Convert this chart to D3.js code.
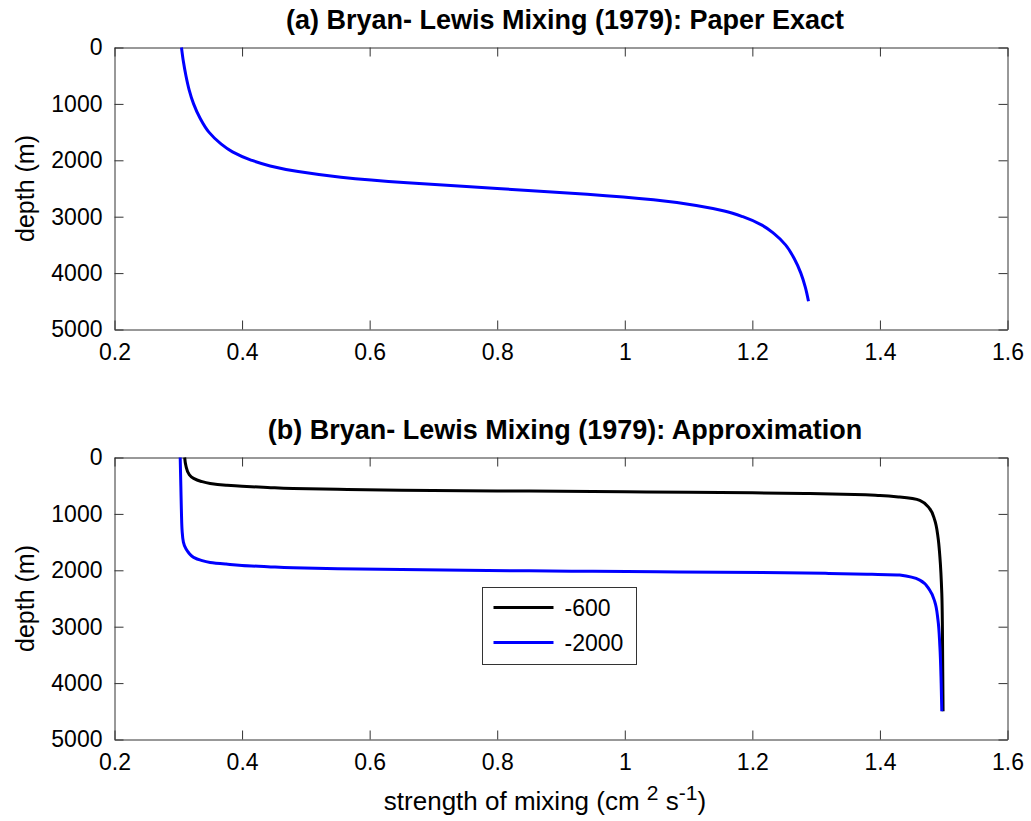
<!DOCTYPE html>
<html>
<head>
<meta charset="utf-8">
<script src="https://cdn.jsdelivr.net/npm/d3@7"></script>
<style>
  body { margin: 0; background: #fff; }
  text { font-family: "Liberation Sans", Arial, Helvetica, sans-serif; }
</style>
</head>
<body>
<svg id="chart" width="1031" height="821"></svg>
<script>
// ticks
const xTicks = [0.2, 0.4, 0.6, 0.8, 1.0, 1.2, 1.4, 1.6]
const xTickLabels = ["0.2", "0.4", "0.6", "0.8", "1", "1.2", "1.4", "1.6"]
const yTicks = [0, 1000, 2000, 3000, 4000, 5000]
const yTickLabels = ["0", "1000", "2000", "3000", "4000", "5000"]

// (a) paper exact profile
const exactDepth = [0, 250, 500, 750, 1000, 1250, 1500, 1700, 1850, 2000, 2100, 2200, 2300, 2400, 2500,
                    2600, 2700, 2800, 2900, 3000, 3150, 3300, 3500, 3750, 4000, 4250, 4500]
const exactMix = [0.305, 0.308, 0.312, 0.317, 0.324, 0.334, 0.348, 0.366, 0.385, 0.415, 0.444, 0.488, 0.555, 0.659, 0.8,
                  0.941, 1.045, 1.112, 1.156, 1.185, 1.215, 1.234, 1.252, 1.266, 1.276, 1.283, 1.288]

// (b) approximation, transition at -600
const mix600Depth = [0, 150, 300, 370, 420, 460, 490, 510, 530, 550, 565, 580, 592, 600, 608, 616, 626, 640,
                     655, 675, 701, 760, 907, 1113, 1408, 1761, 2409, 3057, 3800, 4500]
const mix600 = [0.310, 0.312, 0.317, 0.324, 0.335, 0.35, 0.375, 0.40, 0.44, 0.48, 0.55, 0.65, 0.80, 0.90, 1.00, 1.10, 1.20, 1.29,
                1.36, 1.40, 1.431, 1.4625, 1.478, 1.486, 1.491, 1.494, 1.497, 1.498, 1.4985, 1.499]

// (b) approximation, transition at -2000
const mix2000Depth = [0, 500, 1000, 1300, 1500, 1620, 1700, 1770, 1820, 1860, 1890, 1915, 1935, 1955, 1972, 1988,
                      2000, 2010, 2018, 2026, 2034, 2044, 2055, 2068, 2085, 2173, 2350, 2556, 2880, 3352, 4000, 4500]
const mix2000 = [0.303, 0.304, 0.305, 0.306, 0.308, 0.312, 0.317, 0.324, 0.335, 0.35, 0.375, 0.40, 0.44, 0.48, 0.55, 0.65,
                 0.75, 0.85, 0.95, 1.05, 1.15, 1.25, 1.32, 1.38, 1.431, 1.4625, 1.478, 1.486, 1.491, 1.494, 1.496, 1.497]

const svg = d3.select("#chart")
const left = 114.5, right = 1007.5, panel_h = 282
const axis_color = "#333"

const zip = (ds, vs) => ds.map((d, i) => ({d: d, v: vs[i]}))

function drawPanel(top, title, series) {
    const x = d3.scaleLinear().domain([0.2, 1.6]).range([left, right])
    const y = d3.scaleLinear().domain([0, 5000]).range([top, top + panel_h])
    const g = svg.append("g")

    const styleAxis = sel => {
        sel.attr("font-size", 23).attr("font-family", null).attr("color", "#000")
        sel.selectAll("path, line").attr("stroke", axis_color).attr("stroke-width", 1)
    }

    g.append("g").attr("transform", `translate(0,${top + panel_h})`)
        .call(d3.axisBottom(x).tickValues(xTicks).tickFormat((d, i) => xTickLabels[i])
            .tickSizeInner(-9).tickSizeOuter(0).tickPadding(14))
        .call(styleAxis)
    g.append("g").attr("transform", `translate(0,${top})`)
        .call(d3.axisTop(x).tickValues(xTicks).tickFormat("").tickSizeInner(-9).tickSizeOuter(0))
        .call(styleAxis)
    g.append("g").attr("transform", `translate(${left},0)`)
        .call(d3.axisLeft(y).tickValues(yTicks).tickFormat((d, i) => yTickLabels[i])
            .tickSizeInner(-9).tickSizeOuter(0).tickPadding(12))
        .call(styleAxis)
    g.append("g").attr("transform", `translate(${right},0)`)
        .call(d3.axisRight(y).tickValues(yTicks).tickFormat("").tickSizeInner(-9).tickSizeOuter(0))
        .call(styleAxis)

    const line = d3.line().x(p => x(p.v)).y(p => y(p.d)).curve(d3.curveMonotoneY)
    for (const s of series) {
        g.append("path").datum(s.points)
            .attr("fill", "none").attr("stroke", s.color).attr("stroke-width", 3)
            .attr("stroke-linejoin", "round")
            .attr("d", line)
    }

    g.append("text").attr("x", (left + right) / 2 + 4).attr("y", top - 19)
        .attr("text-anchor", "middle").attr("font-size", 27).attr("font-weight", "bold")
        .text(title)

    g.append("text")
        .attr("transform", `translate(34,${top + panel_h / 2}) rotate(-90)`)
        .attr("text-anchor", "middle").attr("font-size", 25)
        .text("depth (m)")

    return {x, y, g}
}

drawPanel(47.5, "(a) Bryan- Lewis Mixing (1979): Paper Exact", [
    {color: "#0000ff", points: zip(exactDepth, exactMix)}
])

const legendItems = [
    {label: "-600", color: "#000000", points: zip(mix600Depth, mix600)},
    {label: "-2000", color: "#0000ff", points: zip(mix2000Depth, mix2000)}
]
const bottom = drawPanel(457.5, "(b) Bryan- Lewis Mixing (1979): Approximation", legendItems)

// x label
const xlab = svg.append("text").attr("x", 545).attr("y", 810)
    .attr("text-anchor", "middle").attr("font-size", 26)
xlab.append("tspan").text("strength of mixing (cm ")
xlab.append("tspan").attr("dy", -10).attr("font-size", 21).text("2")
xlab.append("tspan").attr("dy", 10).text(" s")
xlab.append("tspan").attr("dy", -10).attr("font-size", 21).text("-1")
xlab.append("tspan").attr("dy", 10).text(")")

// legend
const lg = svg.append("g").attr("transform", "translate(482.5,587.5)")
lg.append("rect").attr("width", 154).attr("height", 77)
    .attr("fill", "#fff").attr("stroke", axis_color).attr("stroke-width", 1)
legendItems.forEach((it, i) => {
    const yy = 20 + i * 35
    lg.append("line").attr("x1", 11).attr("x2", 71).attr("y1", yy).attr("y2", yy)
        .attr("stroke", it.color).attr("stroke-width", 3)
    lg.append("text").attr("x", 82).attr("y", yy).attr("dy", "0.35em")
        .attr("font-size", 23).text(it.label)
})
</script>
</body>
</html>
